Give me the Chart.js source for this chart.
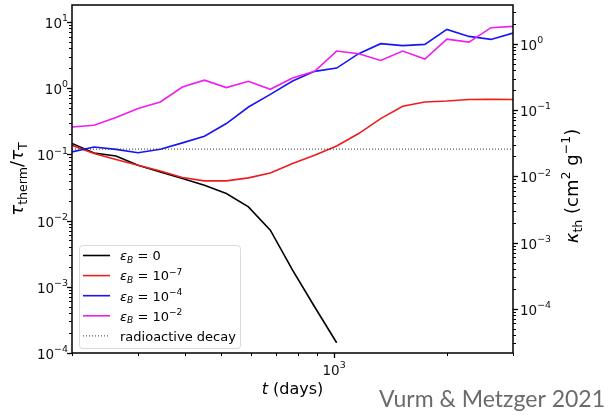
<!DOCTYPE html>
<html>
<head>
<meta charset="utf-8">
<script src="https://cdn.jsdelivr.net/npm/chart.js@4.4.1/dist/chart.umd.min.js"></script>
<style>
  html, body { margin: 0; padding: 0; background: #fff; }
  #wrap { position: relative; width: 611px; height: 415px; }
</style>
</head>
<body>
<div id="wrap"><canvas id="c" width="611" height="415"></canvas></div>
<script>
// Time grid (days) shared by all runs
const T_DAYS = [200, 229, 262, 300, 344, 394, 451, 516, 591, 676, 775, 887, 1016, 1163, 1331, 1524, 1746, 1999, 2289, 2621, 3000];

// tau_therm / tau_T for each magnetisation parameter
const TAU_EPS_0  = [0.146, 0.105, 0.0946, 0.0686, 0.0543, 0.0432, 0.0342, 0.0256, 0.0161, 0.00716, 0.00179, 0.000499, 0.000143];
const TAU_EPS_E7 = [0.137, 0.103, 0.0836, 0.0686, 0.0562, 0.0447, 0.0397, 0.0397, 0.0441, 0.0524, 0.0726, 0.0968, 0.134, 0.206, 0.347, 0.531, 0.617, 0.638, 0.672, 0.676, 0.672];
const TAU_EPS_E4 = [0.109, 0.129, 0.119, 0.106, 0.119, 0.149, 0.188, 0.292, 0.519, 0.805, 1.28, 1.79, 2.01, 3.31, 4.69, 4.38, 4.58, 7.71, 6.04, 5.44, 6.78];
const TAU_EPS_E2 = [0.259, 0.275, 0.359, 0.491, 0.617, 1.04, 1.32, 1.02, 1.27, 0.96, 1.42, 1.79, 3.63, 3.31, 2.62, 3.63, 2.75, 5.5, 4.96, 8.18, 8.55];
const TAU_RADIOACTIVE = 0.12;

const SERIES_LABELS = ['ε_B = 0', 'ε_B = 10^{−7}', 'ε_B = 10^{−4}', 'ε_B = 10^{−2}', 'radioactive decay'];

// Axis ranges and ticks
const X_RANGE = [200, 3000];
const Y_RANGE = [1e-4, 18];
const KAPPA_PER_TAU = 0.215;           // kappa_th = KAPPA_PER_TAU * tau_therm/tau_T
const X_TICKS = [1000];
const X_TICK_LABELS = ['10^{3}'];
const Y_TICKS = [1e-4, 1e-3, 1e-2, 1e-1, 1, 10];
const Y_TICK_LABELS = ['10^{−4}', '10^{−3}', '10^{−2}', '10^{−1}', '10^{0}', '10^{1}'];
const Y2_TICKS = [1e-4, 1e-3, 1e-2, 1e-1, 1];
const Y2_TICK_LABELS = ['10^{−4}', '10^{−3}', '10^{−2}', '10^{−1}', '10^{0}'];

const X_TITLE = 't (days)';
const Y_TITLE = 'τ_{therm}/τ_{T}';
const Y2_TITLE = 'κ_{th} (cm^{2} g^{−1})';
const CREDIT = 'Vurm & Metzger 2021';

const FONT = '"DejaVu Sans", "Liberation Sans", sans-serif';

function pts(values) {
  return values.map((v, i) => ({ x: T_DAYS[i], y: v }));
}

// ---- small rich-text helper for sub/superscripts ----
function parseRich(str, italicChars) {
  const runs = [];
  let i = 0;
  while (i < str.length) {
    const c = str[i];
    if ((c === '_' || c === '^') && i + 1 < str.length) {
      const kind = c === '_' ? 'sub' : 'sup';
      let txt, ital;
      if (str[i + 1] === '{') {
        const j = str.indexOf('}', i);
        txt = str.slice(i + 2, j); i = j + 1; ital = false;
      } else {
        txt = str[i + 1]; i += 2; ital = /[A-Za-z]/.test(txt);
      }
      runs.push({ t: txt, kind, ital });
    } else {
      runs.push({ t: c, kind: 'base', ital: italicChars.includes(c) });
      i++;
    }
  }
  return runs;
}
function runFont(r, size) {
  const sz = r.kind === 'base' ? size : size * 0.7;
  return (r.ital ? 'italic ' : '') + sz.toFixed(2) + 'px ' + FONT;
}
function richWidth(ctx, runs, size) {
  let w = 0;
  for (const r of runs) { ctx.font = runFont(r, size); w += ctx.measureText(r.t).width; }
  return w;
}
function drawRich(ctx, runs, x, y, size, supRaise) {
  const up = supRaise == null ? 0.42 : supRaise;
  ctx.textBaseline = 'alphabetic';
  ctx.textAlign = 'left';
  for (const r of runs) {
    ctx.font = runFont(r, size);
    const dy = r.kind === 'sub' ? 0.22 * size : r.kind === 'sup' ? -up * size : 0;
    ctx.fillText(r.t, x, y + dy);
    x += ctx.measureText(r.t).width;
  }
}

function logTicks(min, max) {
  const out = [];
  for (let d = Math.floor(Math.log10(min)); d <= Math.ceil(Math.log10(max)); d++) {
    for (let k = 1; k <= 9; k++) {
      const v = k * Math.pow(10, d);
      if (v >= min * 0.999 && v <= max * 1.001) out.push({ v, major: k === 1 });
    }
  }
  return out;
}

// Frame, tick marks, tick labels, axis titles, legend and credit line
const decorations = {
  id: 'decorations',
  afterDatasetsDraw(chart) {
    const ctx = chart.ctx;
    const a = chart.chartArea;
    const sx = chart.scales.x, sy = chart.scales.y, sy2 = chart.scales.y2;
    ctx.save();
    ctx.strokeStyle = '#000';
    ctx.fillStyle = '#000';

    // tick marks
    const MAJ = 5, MIN = 3;
    for (const t of logTicks(sx.min, sx.max)) {
      const px = Math.round(sx.getPixelForValue(t.v)) + 0.5;
      ctx.lineWidth = t.major ? 1.3 : 1;
      ctx.beginPath(); ctx.moveTo(px, a.bottom); ctx.lineTo(px, a.bottom + (t.major ? MAJ : MIN)); ctx.stroke();
    }
    for (const t of logTicks(sy.min, sy.max)) {
      const py = Math.round(sy.getPixelForValue(t.v)) + 0.5;
      ctx.lineWidth = t.major ? 1.3 : 1;
      ctx.beginPath(); ctx.moveTo(a.left, py); ctx.lineTo(a.left - (t.major ? MAJ : MIN), py); ctx.stroke();
    }
    for (const t of logTicks(sy2.min, sy2.max)) {
      const py = Math.round(sy2.getPixelForValue(t.v)) + 0.5;
      ctx.lineWidth = t.major ? 1.3 : 1;
      ctx.beginPath(); ctx.moveTo(a.right, py); ctx.lineTo(a.right + (t.major ? MAJ : MIN), py); ctx.stroke();
    }

    // tick labels, placed from each scale's own ticks
    const LS = 13.5, RAISE = 0.5;
    ctx.fillStyle = '#111';
    sx.ticks.forEach((t, i) => {
      const runs = parseRich(X_TICK_LABELS[i], '');
      const w = richWidth(ctx, runs, LS);
      drawRich(ctx, runs, sx.getPixelForValue(t.value) - w / 2, a.bottom + 22, LS, RAISE);
    });
    sy.ticks.forEach((t, i) => {
      const runs = parseRich(Y_TICK_LABELS[i], '');
      const w = richWidth(ctx, runs, LS);
      drawRich(ctx, runs, a.left - 4 - w, sy.getPixelForValue(t.value) + 6, LS, RAISE);
    });
    sy2.ticks.forEach((t, i) => {
      const runs = parseRich(Y2_TICK_LABELS[i], '');
      drawRich(ctx, runs, a.right + 7, sy2.getPixelForValue(t.value) + 6, LS, RAISE);
    });
    ctx.fillStyle = '#000';

    // axes frame
    ctx.lineWidth = 1.5;
    ctx.strokeRect(a.left, a.top, a.right - a.left, a.bottom - a.top);

    // axis titles
    let runs = parseRich(X_TITLE, 't');
    let w = richWidth(ctx, runs, 16);
    drawRich(ctx, runs, (a.left + a.right) / 2 - w / 2, 394, 16);

    const YS = 18;
    runs = parseRich(Y_TITLE, 'τ');
    w = richWidth(ctx, runs, YS);
    ctx.save();
    ctx.translate(23, (a.top + a.bottom) / 2);
    ctx.rotate(-Math.PI / 2);
    drawRich(ctx, runs, -w / 2, 0, YS);
    ctx.restore();

    runs = parseRich(Y2_TITLE, 'κ');
    w = richWidth(ctx, runs, YS);
    ctx.save();
    ctx.translate(578, 186);
    ctx.rotate(-Math.PI / 2);
    drawRich(ctx, runs, -w / 2, 0, YS);
    ctx.restore();

    // legend
    const lx = 79, ly = 245, lw = 161, lh = 103;
    ctx.save();
    ctx.globalAlpha = 0.85;
    ctx.fillStyle = '#fff';
    ctx.strokeStyle = '#d4d4d4';
    ctx.lineWidth = 1;
    ctx.beginPath();
    ctx.roundRect(lx + 0.5, ly + 0.5, lw, lh, 3);
    ctx.fill(); ctx.stroke();
    ctx.restore();
    chart.data.datasets.forEach((ds, i) => {
      const cy = 255.5 + i * 20.1;
      ctx.save();
      ctx.strokeStyle = ds.borderColor;
      ctx.lineWidth = ds.borderWidth;
      ctx.setLineDash(ds.borderDash || []);
      ctx.beginPath(); ctx.moveTo(83, cy); ctx.lineTo(110, cy); ctx.stroke();
      ctx.restore();
      ctx.fillStyle = '#000';
      const r = parseRich(ds.label, /[_^]/.test(ds.label) ? 'ε' : '');
      drawRich(ctx, r, 120, cy + 4.8, 13);
    });

    // credit line
    ctx.font = '23px Lato, "Open Sans", sans-serif';
    ctx.fillStyle = '#6b6b6b';
    ctx.textAlign = 'right';
    ctx.textBaseline = 'alphabetic';
    ctx.fillText(CREDIT, 605, 407);
    ctx.restore();
  }
};

const fixTicks = values => s => { s.ticks = values.map(v => ({ value: v })); };
const hiddenTicks = { display: false, autoSkip: false };

new Chart(document.getElementById('c'), {
  type: 'line',
  data: {
    datasets: [
      { label: SERIES_LABELS[0], data: pts(TAU_EPS_0),  borderColor: '#000000', borderWidth: 1.6, order: 5 },
      { label: SERIES_LABELS[1], data: pts(TAU_EPS_E7), borderColor: '#ee1c1c', borderWidth: 1.6, order: 4 },
      { label: SERIES_LABELS[2], data: pts(TAU_EPS_E4), borderColor: '#1515f5', borderWidth: 1.6, order: 3 },
      { label: SERIES_LABELS[3], data: pts(TAU_EPS_E2), borderColor: '#f01cf0', borderWidth: 1.6, order: 2 },
      { label: SERIES_LABELS[4], data: [{ x: X_RANGE[0], y: TAU_RADIOACTIVE }, { x: X_RANGE[1], y: TAU_RADIOACTIVE }],
        borderColor: '#333333', borderWidth: 1, borderDash: [1, 2], order: 1 }
    ]
  },
  options: {
    responsive: false,
    animation: false,
    devicePixelRatio: 1,
    layout: { padding: { top: 5, left: 0, right: 0, bottom: 0 } },
    elements: { point: { radius: 0 }, line: { tension: 0, fill: false } },
    plugins: { legend: { display: false }, tooltip: { enabled: false } },
    scales: {
      x: {
        type: 'logarithmic', position: 'bottom', min: X_RANGE[0], max: X_RANGE[1],
        afterBuildTicks: fixTicks(X_TICKS),
        afterFit: s => { s.height = 62; },
        grid: { display: false, drawTicks: false }, border: { display: false },
        ticks: hiddenTicks
      },
      y: {
        type: 'logarithmic', position: 'left', min: Y_RANGE[0], max: Y_RANGE[1],
        afterBuildTicks: fixTicks(Y_TICKS),
        afterFit: s => { s.width = 72; },
        grid: { display: false, drawTicks: false }, border: { display: false },
        ticks: hiddenTicks
      },
      y2: {
        type: 'logarithmic', position: 'right',
        min: Y_RANGE[0] * KAPPA_PER_TAU, max: Y_RANGE[1] * KAPPA_PER_TAU,
        afterBuildTicks: fixTicks(Y2_TICKS),
        afterFit: s => { s.width = 98; },
        grid: { display: false, drawTicks: false }, border: { display: false },
        ticks: hiddenTicks
      }
    }
  },
  plugins: [decorations]
});
</script>
</body>
</html>
